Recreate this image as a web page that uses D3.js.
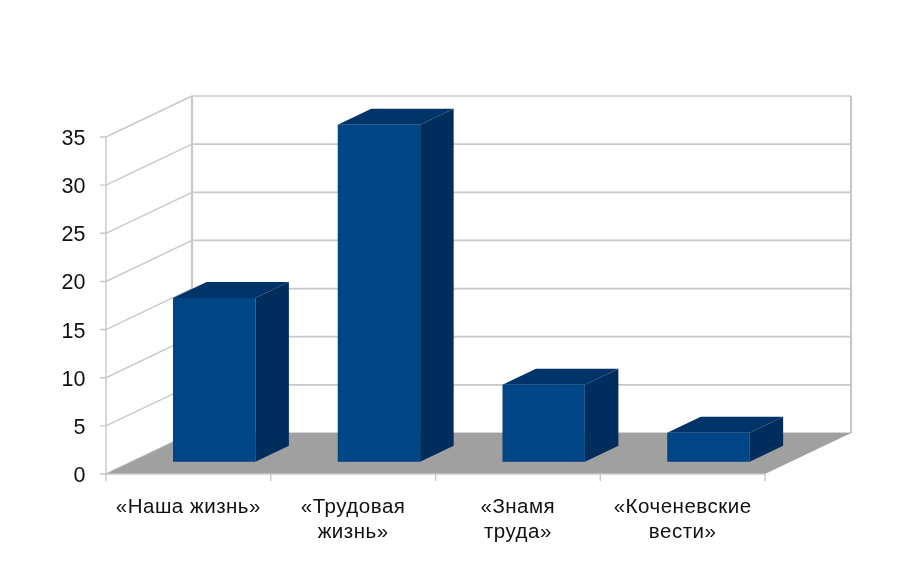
<!DOCTYPE html>
<html>
<head>
<meta charset="utf-8">
<script src="https://cdn.jsdelivr.net/npm/d3@7"></script>
<style>
  html, body { margin: 0; padding: 0; background: #fff; }
  text { font-family: "Liberation Sans", Arial, sans-serif; fill: #111; }
  svg { filter: blur(0.45px); }
</style>
</head>
<body>
<div id="chart"></div>
<script>
// 3D-look column chart, drawn as flat polygons
const categories = [['«Наша жизнь»'], ['«Трудовая', 'жизнь»'], ['«Знамя', 'труда»'], ['«Коченевские', 'вести»']];
const values = [17, 35, 8, 3];
const yTicks = [0, 5, 10, 15, 20, 25, 30, 35];

const width = 924, height = 568;
const GRID = '#c8c8c8', FLOOR = '#a0a0a0';
const FRONT = '#004586', SIDE = '#002d5c', TOP = '#003468';

const svg = d3.select('#chart').append('svg')
  .attr('width', width)
  .attr('height', height)
  .style('display', 'block');

const x = d3.scaleBand().domain(d3.range(categories.length)).range([106, 765]).paddingInner(0).paddingOuter(0);
const y = d3.scaleLinear().domain([0, 35]).range([474, 137]);
// depth goes from the front edge (0) to the back wall (1)
const depthX = d3.scaleLinear().domain([0, 1]).range([0, 86]);
const depthY = d3.scaleLinear().domain([0, 1]).range([0, -41]);

// project a point: horizontal px, value, depth
const pt = (px, v, d) => [px + depthX(d), y(v) + depthY(d)];
const line = d3.line();

function path(g, pts, fill) {
  g.append('path').attr('d', line(pts) + 'Z').attr('fill', fill);
}

// Walls
const walls = svg.append('g').attr('fill', 'none').attr('stroke', GRID).attr('stroke-width', 1.7);
const [xMin, xMax] = x.range();
yTicks.forEach(t => {
  walls.append('path').attr('d', line([[xMin - 6, y(t)], pt(xMin, t, 0), pt(xMin, t, 1)])).attr('stroke-width', 1.4);
  walls.append('path').attr('d', line([pt(xMin, t, 1), pt(xMax, t, 1)]));
});
walls.append('path').attr('d', line([pt(xMin, 0, 0), pt(xMin, 35, 0)])).attr('stroke-width', 1.4);
walls.append('path').attr('d', line([pt(xMin, 0, 1), pt(xMin, 35, 1)])).attr('stroke-width', 2.2);
walls.append('path').attr('d', line([pt(xMax, 0, 1), pt(xMax, 35, 1)])).attr('stroke-width', 2.2);

// Floor
path(svg, [pt(xMin, 0, 0), pt(xMin, 0, 1), pt(xMax, 0, 1), pt(xMax, 0, 0)], FLOOR);

// Front axis + category ticks
const axis = svg.append('g').attr('stroke', GRID).attr('stroke-width', 1.4);
axis.append('line').attr('x1', xMin).attr('x2', xMax).attr('y1', y(0)).attr('y2', y(0));
d3.range(categories.length + 1).forEach(i => {
  const px = xMin + i * x.bandwidth();
  axis.append('line').attr('x1', px).attr('x2', px).attr('y1', y(0)).attr('y2', y(0) + 7);
});

// Bars
const d0 = 0.30, d1 = 0.69;
const bars = svg.append('g');
values.forEach((v, i) => {
  const left = x(i) + x.bandwidth() * 0.25, right = x(i) + x.bandwidth() * 0.75;
  const g = bars.append('g');
  path(g, [pt(left, v, d0), pt(left, v, d1), pt(right, v, d1), pt(right, v, d0)], TOP);
  path(g, [pt(right, 0, d0), pt(right, 0, d1), pt(right, v, d1), pt(right, v, d0)], SIDE);
  path(g, [pt(left, 0, d0), pt(right, 0, d0), pt(right, v, d0), pt(left, v, d0)], FRONT);
});

// Value labels
svg.append('g').selectAll('text').data(yTicks).join('text')
  .attr('x', 85.5)
  .attr('y', d => y(d) + 8)
  .attr('text-anchor', 'end')
  .attr('font-size', 21.5)
  .text(d => d);

// Category labels
const labels = svg.append('g').attr('font-size', 20.5).attr('letter-spacing', 0.5).attr('text-anchor', 'middle');
categories.forEach((lines, i) => {
  lines.forEach((s, j) => {
    labels.append('text')
      .attr('x', x(i) + x.bandwidth() / 2)
      .attr('y', 513 + j * 24.5)
      .text(s);
  });
});
</script>
</body>
</html>
